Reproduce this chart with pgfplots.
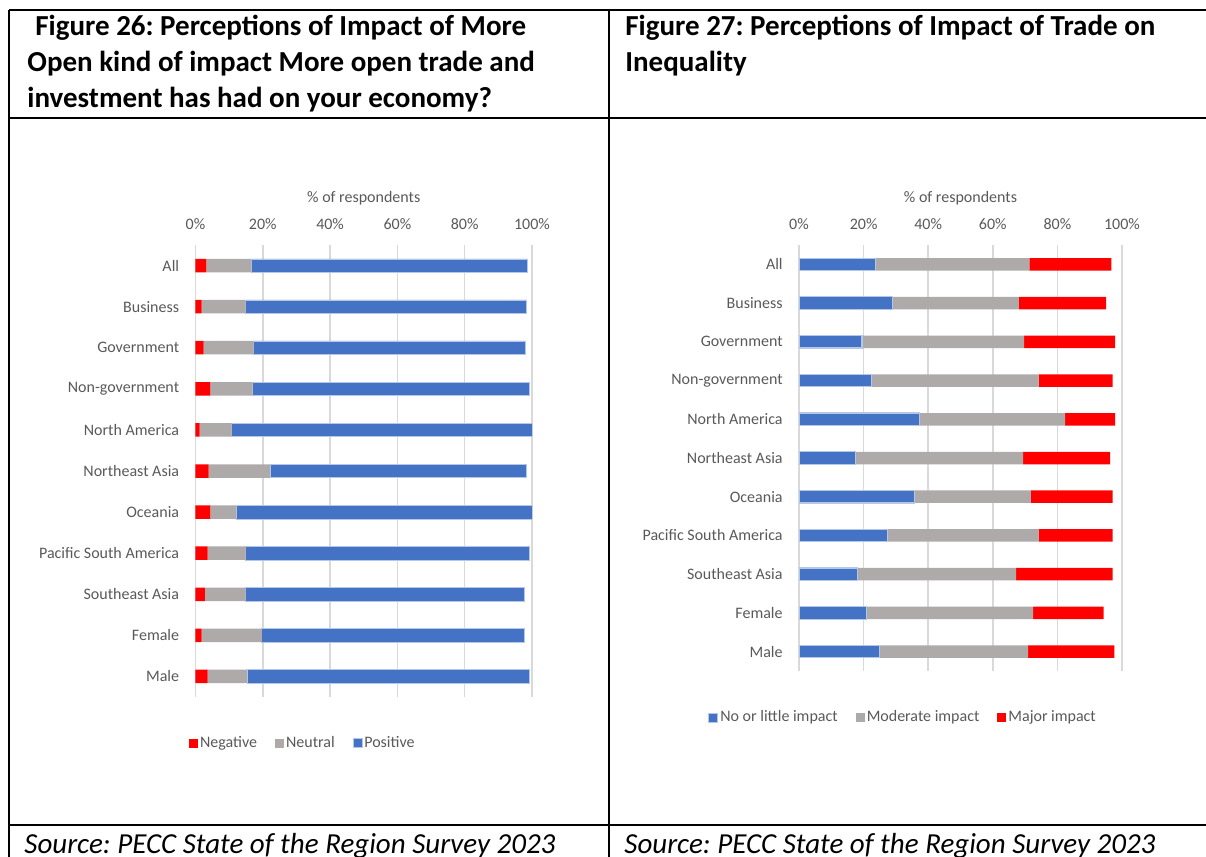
\documentclass[border=0pt]{standalone}
\usepackage{fontspec}
\setmainfont{Carlito}
\usepackage{pgfplots}
\usepackage{pgfplotstable}
\pgfplotsset{compat=1.18}
\frenchspacing

\definecolor{xlblue}{HTML}{4472C4}
\definecolor{xlgray}{HTML}{AEAAAA}
\definecolor{xlred}{HTML}{FF0000}
\definecolor{xltext}{HTML}{595959}
\definecolor{xlgrid}{HTML}{D9D9D9}
\definecolor{xledge}{HTML}{B4C7E7}

% Figure 26: negative / neutral / positive (% of respondents)
\pgfplotstableread{
idx neg neu pos
0  3.2 13.4 82.0
1  1.8 13.1 83.5
2  2.4 14.9 80.6
3  4.4 12.5 82.2
4  1.2  9.5 89.3
5  3.9 18.2 76.3
6  4.4  7.7 87.9
7  3.6 11.3 84.3
8  2.8 12.1 82.7
9  1.8 17.9 77.9
10 3.6 11.7 83.9
}\openness

% Figure 27: no or little / moderate / major impact
\pgfplotstableread{
idx none moderate major
0  23.7 47.6 25.4
1  28.9 39.2 27.0
2  19.5 50.2 28.2
3  22.5 51.7 22.9
4  37.2 45.2 15.5
5  17.6 51.8 26.9
6  35.7 36.1 25.3
7  27.3 46.9 22.9
8  18.1 49.1 29.9
9  20.9 51.6 21.8
10 24.9 46.0 26.7
}\inequality

\newcommand{\chartfont}{\fontsize{8}{9.6}\selectfont}

\pgfplotsset{
  surveybars/.style={
    scale only axis,
    xbar stacked,
    xmin=0, xmax=100,
    ymin=-0.5, ymax=10.5,
    y dir=reverse,
    ytick={0,...,10},
    yticklabels={All,Business,Government,Non-government,North America,Northeast Asia,Oceania,Pacific South America,Southeast Asia,Female,Male},
    xtick={0,20,40,60,80,100},
    xticklabels={0\%,20\%,40\%,60\%,80\%,100\%},
    xticklabel pos=upper,
    axis line style={draw=none},
    major tick length=0pt,
    xmajorgrids,
    grid style={xlgrid, line width=0.75pt},
    tick label style={font=\chartfont, text=xltext},
    xticklabel style={anchor=center, yshift=10.5pt},
    yticklabel style={anchor=east, inner sep=0pt, xshift=-8pt},
    title={\% of respondents},
    title style={at={(0.5,1)}, anchor=center, yshift=17.5pt, font=\chartfont, text=xltext},
    legend columns=-1,
    legend style={draw=none, fill=none, font=\chartfont, text=xltext, anchor=center,
      nodes={inner sep=1pt},
      /tikz/every even column/.append style={column sep=8pt}},
    legend image code/.code={\fill[##1] (0pt,-2.25pt) rectangle (4.5pt,2.25pt);},
  }
}

\begin{document}
\begin{tikzpicture}
\path[use as bounding box] (0pt,0pt) rectangle (603pt,-428.5pt);

% table rules
\draw[line width=1.3pt] (4.5pt,-5pt) -- (603pt,-5pt);
\draw[line width=1.1pt] (4.5pt,-5pt) -- (4.5pt,-430pt);
\draw[line width=1.1pt] (304.5pt,-5pt) -- (304.5pt,-430pt);
\draw[line width=0.9pt] (4.5pt,-59pt) -- (603pt,-59pt);
\draw[line width=1.3pt] (4.5pt,-412.5pt) -- (603pt,-412.5pt);

% headings
\begin{scope}[every node/.style={anchor=base west, inner sep=0pt, font=\fontsize{14.5}{18}\selectfont\bfseries}]
\node at (17.5pt,-17.5pt) {Figure 26: Perceptions of Impact of More};
\node at (13.5pt,-35.5pt) {Open kind of impact More open trade and};
\node at (13.5pt,-53.5pt) {investment has had on your economy?};
\node at (312.5pt,-17.5pt) {Figure 27: Perceptions of Impact of Trade on};
\node at (312.5pt,-35.5pt) {Inequality};
\end{scope}

\begin{scope}[every node/.style={anchor=base west, inner sep=0pt, font=\fontsize{14.5}{18}\selectfont\itshape}]
\node at (12pt,-426.5pt) {Source: PECC State of the Region Survey 2023};
\node at (312pt,-426.5pt) {Source: PECC State of the Region Survey 2023};
\end{scope}

% Figure 26
\begin{axis}[
  surveybars,
  at={(97.75pt,-122.5pt)}, anchor=north west,
  width=168.25pt, height=226pt,
  bar width=6.75pt,
  legend style={at={(0.319,-0.102)}},
]
\addplot[fill=xlred, draw=none] table[x=neg, y=idx] {\openness};
\addplot[fill=xlgray, draw=none] table[x=neu, y=idx] {\openness};
\addplot[fill=xlblue, draw=xledge, line width=0.3pt] table[x=pos, y=idx] {\openness};
\legend{Negative, Neutral, Positive}
\end{axis}

% Figure 27
\begin{axis}[
  surveybars,
  at={(399.5pt,-122.5pt)}, anchor=north west,
  width=161.5pt, height=213pt,
  bar width=6.25pt,
  legend style={at={(0.322,-0.110)}},
]
\addplot[fill=xlblue, draw=xledge, line width=0.6pt] table[x=none, y=idx] {\inequality};
\addplot[fill=xlgray, draw=none] table[x=moderate, y=idx] {\inequality};
\addplot[fill=xlred, draw=none] table[x=major, y=idx] {\inequality};
\legend{No or little impact, Moderate impact, Major impact}
\end{axis}
\end{tikzpicture}
\end{document}
